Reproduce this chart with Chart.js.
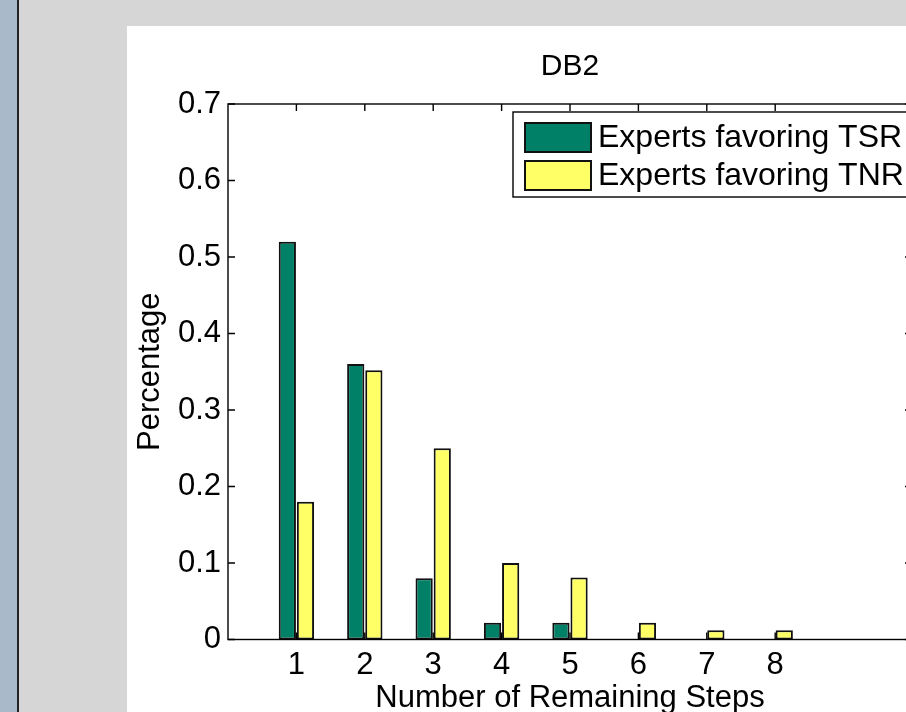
<!DOCTYPE html>
<html>
<head>
<meta charset="utf-8">
<script src="https://cdn.jsdelivr.net/npm/chart.js@4/dist/chart.umd.min.js"></script>
<style>
  html, body { margin: 0; padding: 0; }
  body { width: 906px; height: 712px; overflow: hidden; background: #d6d6d6; position: relative; }
  #strip { position: absolute; left: 0; top: 0; width: 17px; height: 712px; background: #a9b9c9; border-right: 2px solid #222; }
  #panel { position: absolute; left: 127px; top: 26px; width: 886px; height: 700px; background: #fff; }
</style>
</head>
<body>
<div id="strip"></div>
<div id="panel"><canvas id="chart" width="886" height="700"></canvas></div>
<script>
const steps = [1, 2, 3, 4, 5, 6, 7, 8];
const tsrShare = [0.52, 0.36, 0.08, 0.022, 0.022, 0, 0, 0];
const tnrShare = [0.18, 0.352, 0.25, 0.1, 0.081, 0.022, 0.012, 0.012];
const yTicks = [0, 0.1, 0.2, 0.3, 0.4, 0.5, 0.6, 0.7];
const seriesLabels = ['Experts favoring TSR', 'Experts favoring TNR'];
const seriesColors = ['#008066', '#ffff66'];

Chart.defaults.font.family = '"Liberation Sans", Arial, sans-serif';
Chart.defaults.color = '#000';

// box round the axes, with inward ticks on all four sides
const axesBox = {
    id: 'axesBox',
    afterDatasetsDraw(chart) {
        const { ctx, chartArea: a, scales: { x, y } } = chart;
        const len = 7;
        ctx.save();
        ctx.strokeStyle = '#000';
        ctx.lineWidth = 1.4;
        ctx.strokeRect(a.left, a.top, a.right - a.left, a.bottom - a.top);
        ctx.beginPath();
        yTicks.forEach(v => {
            const py = y.getPixelForValue(v);
            ctx.moveTo(a.left, py); ctx.lineTo(a.left + len, py);
            ctx.moveTo(a.right, py); ctx.lineTo(a.right - len, py);
        });
        steps.forEach(s => {
            const px = x.getPixelForValue(s);
            ctx.moveTo(px, a.top); ctx.lineTo(px, a.top + len);
            ctx.moveTo(px, a.bottom); ctx.lineTo(px, a.bottom - len);
        });
        ctx.stroke();
        ctx.restore();
    }
};

// legend inside the plot, top right, like matlab's NorthEast
const boxLegend = {
    id: 'boxLegend',
    afterDraw(chart) {
        const { ctx, chartArea: a } = chart;
        const left = a.right - 399, top = a.top + 8;
        const w = 396, h = 85;
        ctx.save();
        ctx.fillStyle = '#fff';
        ctx.fillRect(left, top, w, h);
        ctx.strokeStyle = '#000';
        ctx.lineWidth = 1.4;
        ctx.strokeRect(left, top, w, h);
        ctx.font = '32px "Liberation Sans", Arial, sans-serif';
        ctx.textBaseline = 'middle';
        chart.data.datasets.forEach((ds, i) => {
            const cy = top + 25 + i * 38;
            ctx.fillStyle = ds.backgroundColor;
            ctx.fillRect(left + 12, cy - 14, 66, 29);
            ctx.lineWidth = 2;
            ctx.strokeStyle = '#111';
            ctx.strokeRect(left + 12, cy - 14, 66, 29);
            ctx.fillStyle = '#000';
            ctx.fillText(ds.label, left + 85, cy + 1);
        });
        ctx.restore();
    }
};

new Chart(document.getElementById('chart'), {
    type: 'bar',
    data: {
        datasets: [
            {
                label: seriesLabels[0],
                data: steps.map((s, i) => ({ x: s, y: tsrShare[i] })),
                backgroundColor: seriesColors[0]
            },
            {
                label: seriesLabels[1],
                data: steps.map((s, i) => ({ x: s, y: tnrShare[i] })),
                backgroundColor: seriesColors[1]
            }
        ].map(d => Object.assign(d, {
            borderColor: '#111',
            borderWidth: 2,
            borderSkipped: false,
            categoryPercentage: 0.53,
            barPercentage: 0.95
        }))
    },
    options: {
        responsive: false,
        animation: false,
        layout: { padding: { left: 0, right: 101, top: 0, bottom: 0 } },
        plugins: {
            legend: { display: false },
            tooltip: { enabled: false },
            title: {
                display: true,
                fullSize: false,
                text: 'DB2',
                color: '#000',
                font: { size: 30, weight: 'normal' },
                padding: { top: 23, bottom: 19 }
            }
        },
        scales: {
            x: {
                type: 'linear',
                min: 0,
                max: 10,
                offset: false,
                grid: { display: false, drawTicks: false, tickLength: 0 },
                border: { display: false },
                afterBuildTicks: s => { s.ticks = steps.map(v => ({ value: v })); },
                afterFit: s => { s.height = 86.5; },
                ticks: { font: { size: 31 }, padding: 7, maxRotation: 0, callback: v => String(v) },
                title: {
                    display: true,
                    text: 'Number of Remaining Steps',
                    font: { size: 31 },
                    padding: { top: 0, bottom: 9 }
                }
            },
            y: {
                min: 0,
                max: 0.7,
                grid: { display: false, drawTicks: false, tickLength: 0 },
                border: { display: false },
                afterBuildTicks: s => { s.ticks = yTicks.map(v => ({ value: v })); },
                afterFit: s => { s.width = 101; },
                ticks: { font: { size: 31 }, padding: 7, callback: v => v === 0 ? '0' : v.toFixed(1) },
                title: {
                    display: true,
                    text: 'Percentage',
                    font: { size: 31 },
                    padding: { top: 5, bottom: 0 }
                }
            }
        }
    },
    plugins: [axesBox, boxLegend]
});
</script>
</body>
</html>
